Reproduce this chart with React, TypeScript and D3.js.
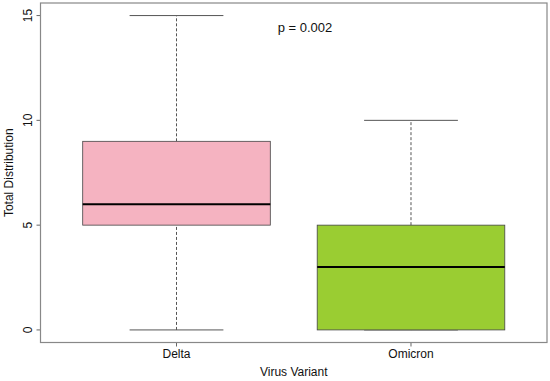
import * as d3 from "d3";

const categories = ["Delta", "Omicron"];
const mins = [0, 0];
const q1s = [5, 0];
const medians = [6, 3];
const q3s = [9, 5];
const maxs = [15, 10];
const fills = ["#F5B3C1", "#9ACD32"];
const yTicks = [0, 5, 10, 15];

const W = 550;
const H = 381;
const left = 40.5;
const right = 547;
const top = 3;
const bottom = 342.5;

export default function App() {
  const x = d3.scaleLinear().domain([0.42, 2.58]).range([left, right]);
  const y = d3.scaleLinear().domain([-0.6, 15.6]).range([bottom, top]);
  const font = "'Liberation Sans', Arial, sans-serif";

  return (
    <svg
      width={W}
      height={H}
      style={{ position: "absolute", left: 0, top: 0, background: "#fff" }}
      fontFamily={font}
    >
      {categories.map((c, i) => {
        const cx = x(i + 1);
        const bx0 = x(i + 1 - 0.4);
        const bx1 = x(i + 1 + 0.4);
        const sx0 = x(i + 1 - 0.2);
        const sx1 = x(i + 1 + 0.2);
        return (
          <g key={c}>
            {/* whiskers */}
            <line x1={cx} x2={cx} y1={y(q3s[i])} y2={y(maxs[i])} stroke="#555" strokeDasharray="3,2" />
            <line x1={cx} x2={cx} y1={y(mins[i])} y2={y(q1s[i])} stroke="#555" strokeDasharray="3,2" />
            <line x1={sx0} x2={sx1} y1={y(maxs[i])} y2={y(maxs[i])} stroke="#555" />
            <line x1={sx0} x2={sx1} y1={y(mins[i])} y2={y(mins[i])} stroke="#555" />
            <rect
              x={bx0}
              y={y(q3s[i])}
              width={bx1 - bx0}
              height={y(q1s[i]) - y(q3s[i])}
              fill={fills[i]}
              stroke="#444"
              strokeWidth={0.8}
            />
            <line x1={bx0} x2={bx1} y1={y(medians[i])} y2={y(medians[i])} stroke="#000" strokeWidth={2} />
            {/* x tick */}
            <line x1={cx} x2={cx} y1={bottom} y2={bottom + 4} stroke="#666" />
            <text x={cx} y={358} textAnchor="middle" fontSize={12} fill="#111">
              {c}
            </text>
          </g>
        );
      })}

      {yTicks.map((t) => (
        <g key={t}>
          <line x1={left - 4} x2={left} y1={y(t)} y2={y(t)} stroke="#666" />
          <text
            transform={`translate(32,${y(t)}) rotate(-90)`}
            textAnchor="middle"
            fontSize={12}
            fill="#111"
          >
            {t}
          </text>
        </g>
      ))}

      <rect x={left} y={top} width={right - left} height={bottom - top} fill="none" stroke="#888" strokeWidth={1.2} />

      <text
        transform={`translate(13,${(top + bottom) / 2}) rotate(-90)`}
        textAnchor="middle"
        fontSize={12}
        fill="#111"
      >
        Total Distribution
      </text>
      <text x={(left + right) / 2} y={376} textAnchor="middle" fontSize={12} fill="#111">
        Virus Variant
      </text>
      <text x={305} y={32} textAnchor="middle" fontSize={13} fill="#111">
        p = 0.002
      </text>
    </svg>
  );
}
